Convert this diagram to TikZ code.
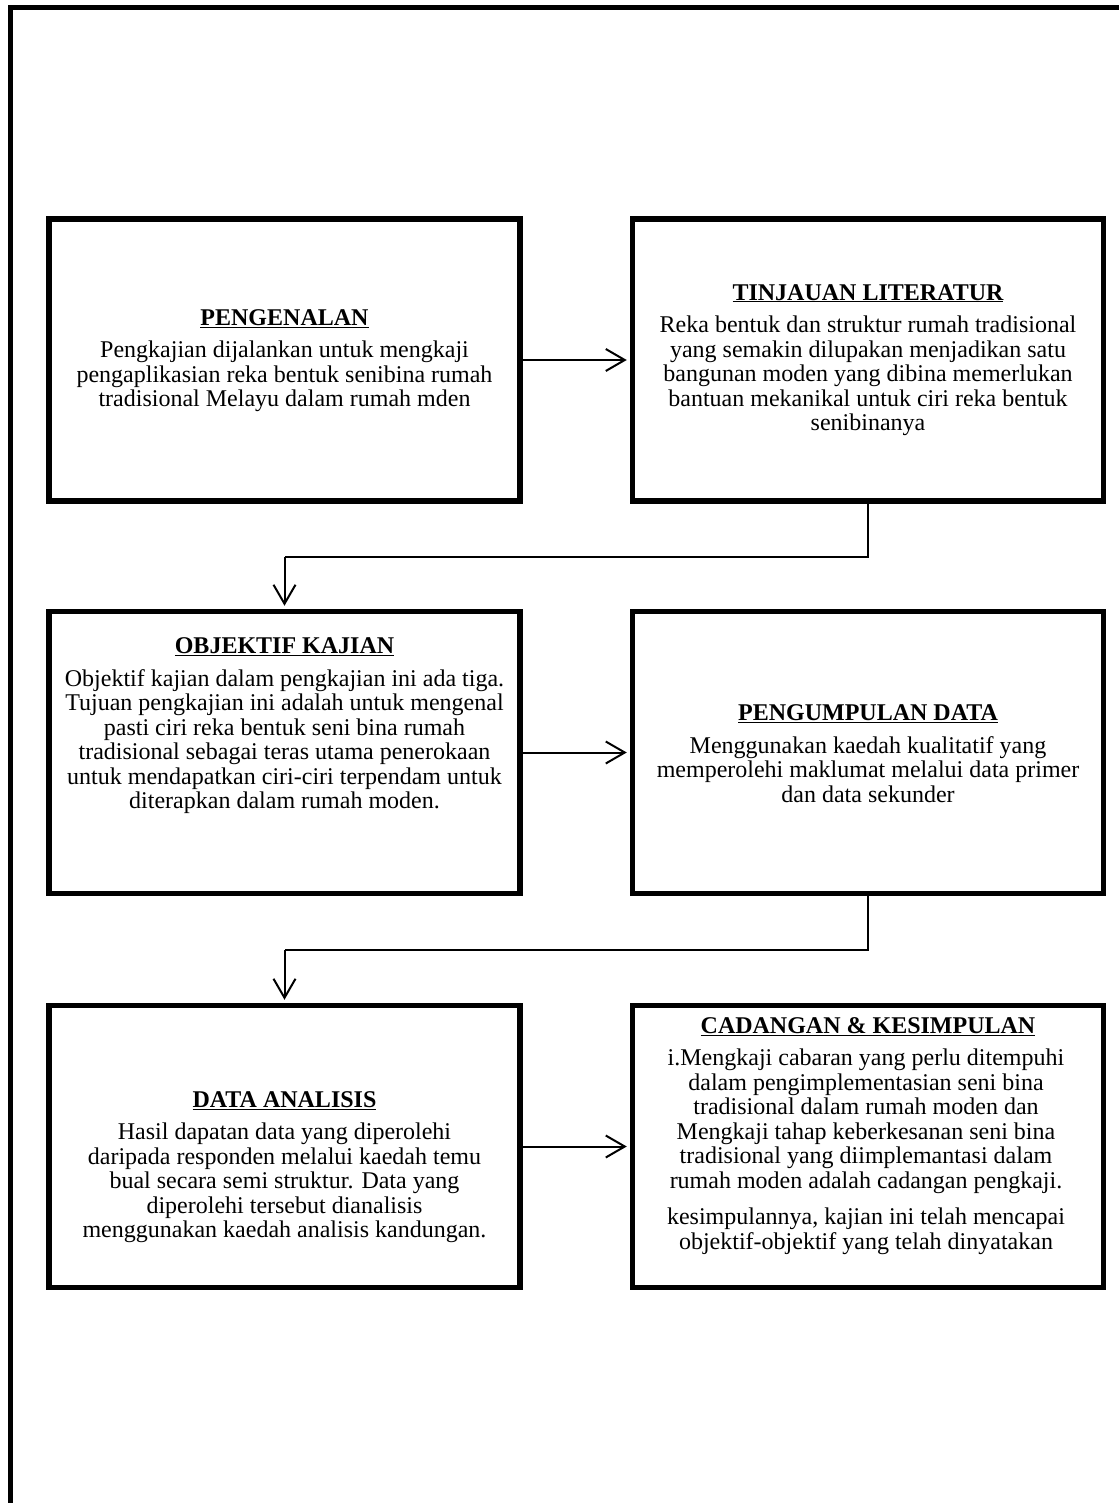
\documentclass[tikz,border=0pt]{standalone}
\usepackage{fontspec}
\setmainfont{Liberation Serif}
\usetikzlibrary{arrows.meta}
\begin{document}
\begin{tikzpicture}[x=1pt,y=-1pt,
  box/.style={draw, line width=5.5pt, minimum width=471pt, minimum height=282pt, inner sep=0pt},
  conn/.style={line width=2pt, shorten >=3pt, -{Straight Barb[length=19pt,width=22pt]}},
  wire/.style={line width=2pt},
  frame/.style={line width=5.5pt, line join=miter},
  txt/.style={font=\fontsize{24}{24.5}\selectfont, align=center, inner sep=0pt, anchor=north},
  ttl/.style={font=\fontsize{24}{24.5}\selectfont\bfseries, inner sep=0pt, anchor=north},
]
\useasboundingbox (0,0) rectangle (1119,1503);
\fill[white] (0,0) rectangle (1119,1503);
\draw[frame] (10.5,1503) -- (10.5,7.5) -- (1119,7.5);

\node[box] (b1) at (284.5,360) {};
\node[box] (b2) at (868,360) {};
\node[box] (b3) at (284.5,752.5) {};
\node[box] (b4) at (868,752.5) {};
\node[box] (b5) at (284.5,1146.5) {};
\node[box] (b6) at (868,1146.5) {};

\coordinate (m1) at (284.5,557);
\coordinate (m2) at (284.5,950);

\draw[conn] (b1.east) -- (b2.west);
\draw[conn] (b3.east) -- (b4.west);
\draw[conn] (b5.east) -- (b6.west);
\draw[wire] (b2.south) |- (m1);
\draw[conn] (m1) -- (b3.north);
\draw[wire] (b4.south) |- (m2);
\draw[conn] (m2) -- (b5.north);

\node[ttl] (t1) at (284.5,309) {\underline{PENGENALAN}};
\node[txt] (x1) at (284.5,341) {Pengkajian dijalankan untuk mengkaji\\pengaplikasian reka bentuk senibina rumah\\tradisional Melayu dalam rumah mden};

\node[ttl] (t2) at (868,284) {\underline{TINJAUAN LITERATUR}};
\node[txt] (x2) at (868,316) {Reka bentuk dan struktur rumah tradisional\\yang semakin dilupakan menjadikan satu\\bangunan moden yang dibina memerlukan\\bantuan mekanikal untuk ciri reka bentuk\\senibinanya};

\node[ttl] (t3) at (284.5,637) {\underline{OBJEKTIF KAJIAN}};
\node[txt] (x3) at (284.5,669) {Objektif kajian dalam pengkajian ini ada tiga.\\Tujuan pengkajian ini adalah untuk mengenal\\pasti ciri reka bentuk seni bina rumah\\tradisional sebagai teras utama penerokaan\\untuk mendapatkan ciri-ciri terpendam untuk\\diterapkan dalam rumah moden.};

\node[ttl] (t4) at (868,704) {\underline{PENGUMPULAN DATA}};
\node[txt] (x4) at (868,736) {Menggunakan kaedah kualitatif yang\\memperolehi maklumat melalui data primer\\dan data sekunder};

\node[ttl] (t5) at (284.5,1091) {\underline{DATA ANALISIS}};
\node[txt] (x5) at (284.5,1123) {Hasil dapatan data yang diperolehi\\daripada responden melalui kaedah temu\\bual secara semi struktur. Data yang\\diperolehi tersebut dianalisis\\menggunakan kaedah analisis kandungan.};

\node[ttl] (t6) at (868,1017) {\underline{CADANGAN \& KESIMPULAN}};
\node[txt] (x6) at (866,1049) {i.Mengkaji cabaran yang perlu ditempuhi\\dalam pengimplementasian seni bina\\tradisional dalam rumah moden dan\\Mengkaji tahap keberkesanan seni bina\\tradisional yang diimplemantasi dalam\\rumah moden adalah cadangan pengkaji.\\[12pt]kesimpulannya, kajian ini telah mencapai\\objektif-objektif yang telah dinyatakan};
\end{tikzpicture}
\end{document}
